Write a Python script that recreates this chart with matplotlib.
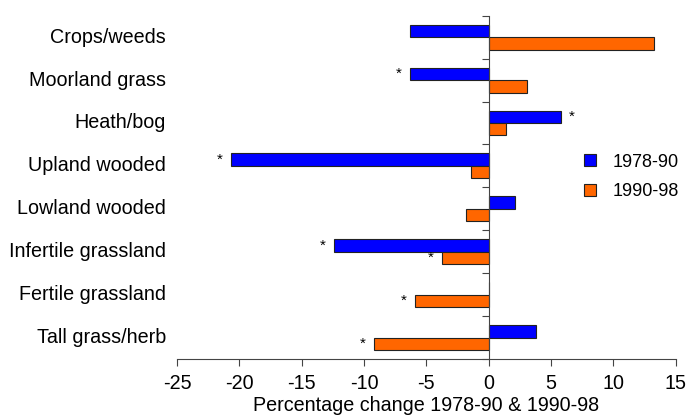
import matplotlib.pyplot as plt
import numpy as np
from matplotlib.patches import Patch
import matplotlib.transforms as mtransforms

plt.rcParams['font.family'] = ['Liberation Sans', 'DejaVu Sans']
plt.rcParams['axes.unicode_minus'] = False

categories = ["Crops/weeds", "Moorland grass", "Heath/bog", "Upland wooded",
              "Lowland wooded", "Infertile grassland", "Fertile grassland",
              "Tall grass/herb"]
change_78_90 = [-6.3, -6.3, 5.8, -20.7, 2.1, -12.4, 0.0, 3.8]
change_90_98 = [13.3, 3.1, 1.4, -1.45, -1.8, -3.75, -5.9, -9.2]
signif_78_90 = [False, True, True, True, False, True, False, False]
signif_90_98 = [False, False, False, False, False, True, True, True]
series_names = ["1978-90", "1990-98"]
colors = ["#0000FF", "#FF6600"]

fs = 14.2

fig = plt.figure(figsize=(6.88, 4.19), dpi=100)
ax = fig.add_axes([0.2573, 0.1432, 0.982 - 0.2573, 0.9625 - 0.1432])

n = len(categories)
y = np.arange(n)
h = 0.29
for vals, flags, off, col in [(change_78_90, signif_78_90, -h / 2, colors[0]),
                              (change_90_98, signif_90_98, h / 2, colors[1])]:
    ax.barh(y + off, vals, height=h, color=col, edgecolor="#222222", linewidth=0.8)
    for yi, v, f in zip(y, vals, flags):
        if f:
            dx = 0.9 if v > 0 else -0.9
            ax.text(v + dx, yi + off, "*", ha="center", va="center", fontsize=11)

ax.set_xlim(-25, 15)
ax.set_ylim(n - 0.5, -0.5)
ax.set_xticks(np.arange(-25, 16, 5))
ax.tick_params(axis="x", length=5, labelsize=fs, color="#444444", pad=6)
ax.set_xlabel("Percentage change 1978-90 & 1990-98", fontsize=fs, labelpad=2)

ax.spines["top"].set_visible(False)
ax.spines["right"].set_visible(False)
ax.spines["left"].set_position(("data", 0))
ax.spines["left"].set_color("#444444")
ax.spines["bottom"].set_color("#444444")
ax.set_yticks(np.arange(-0.5, n, 1.0))
ax.set_yticklabels([])
ax.tick_params(axis="y", length=5, color="#444444")

trans = mtransforms.blended_transform_factory(ax.transAxes, ax.transData)
for yi, c in zip(y, categories):
    ax.text(-0.022, yi, c, transform=trans, ha="right", va="center", fontsize=fs)

handles = [Patch(facecolor=c, edgecolor="#222222", linewidth=0.8) for c in colors]
ax.legend(handles, series_names, loc="center left", bbox_to_anchor=(0.817, 0.53),
          frameon=False, fontsize=13, handlelength=0.65, handleheight=0.65,
          handletextpad=0.9, labelspacing=0.7, borderaxespad=0, borderpad=0)

fig.savefig("out.png", dpi=100)
